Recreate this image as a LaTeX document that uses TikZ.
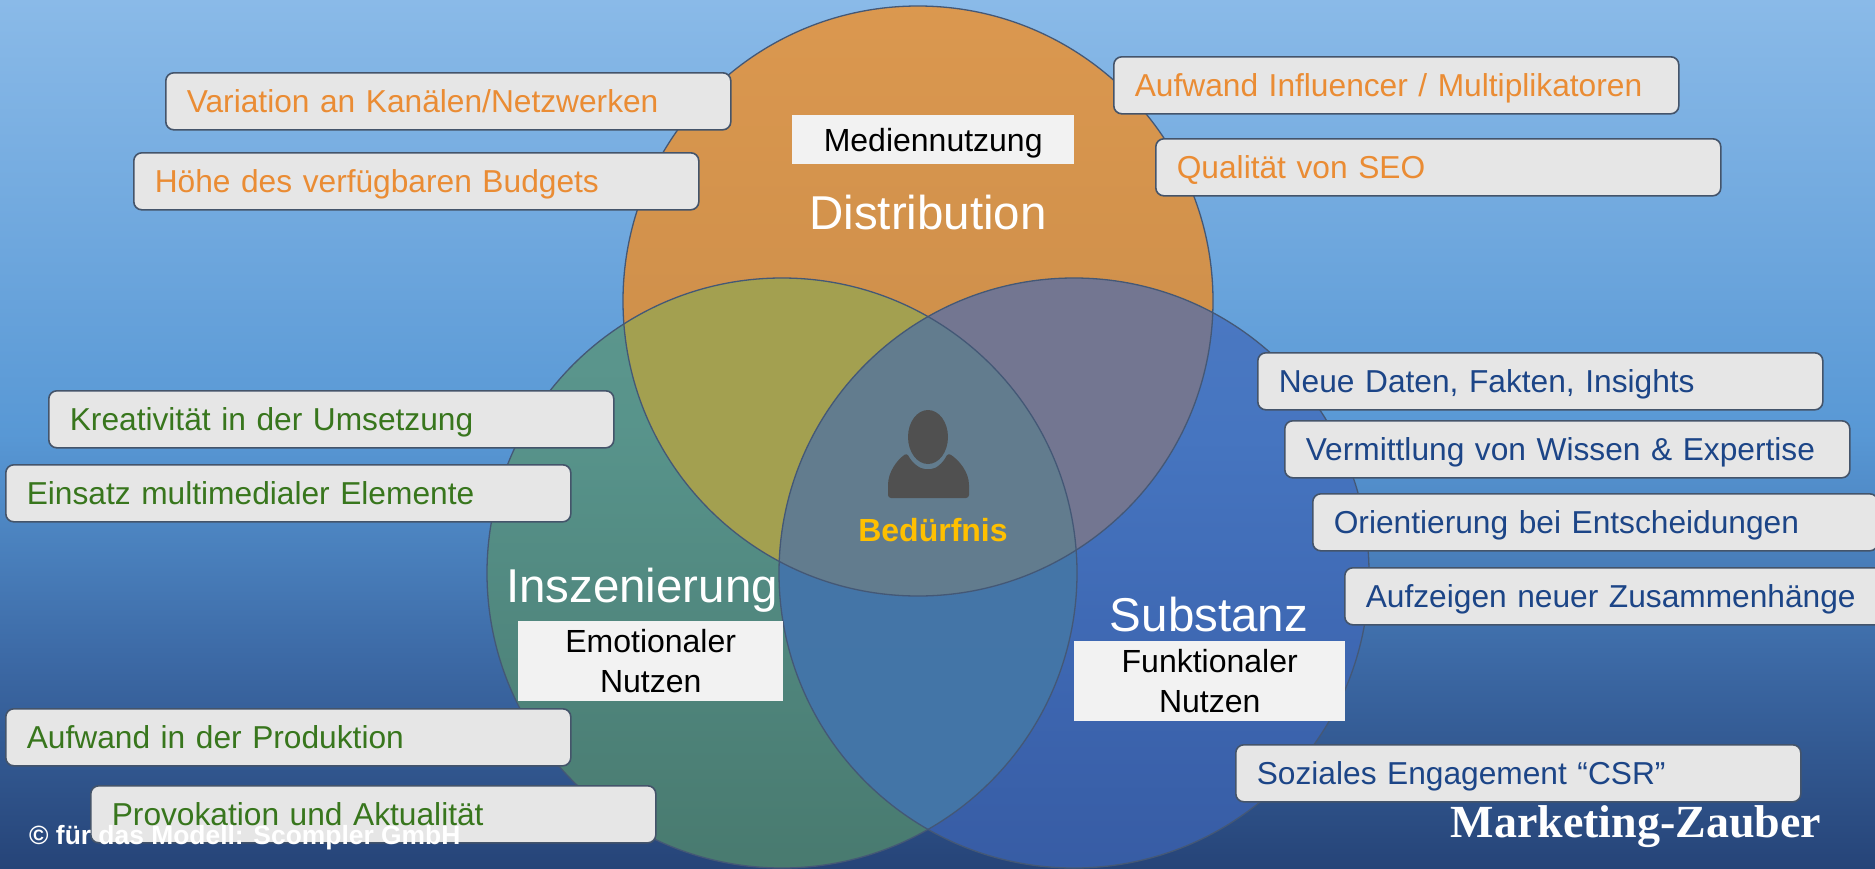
\documentclass[tikz,border=0pt]{standalone}
\usepackage{fontspec}
\setmainfont{Liberation Sans}
\newfontfamily\logoFont{Liberation Serif}
\usepackage{tikz}
\definecolor{distributionFill}{RGB}{254,138,15}
\definecolor{inszenierungFill}{RGB}{88,146,108}
\definecolor{substanzFill}{RGB}{63,103,184}
\definecolor{distributionInszenierung}{RGB}{163,160,80}
\definecolor{distributionSubstanz}{RGB}{115,118,145}
\definecolor{inszenierungSubstanz}{RGB}{68,118,168}
\definecolor{allCircles}{RGB}{98,124,142}
\definecolor{circleLine}{RGB}{68,88,118}
\definecolor{boxLine}{RGB}{68,84,106}
\definecolor{boxFill}{RGB}{230,230,230}
\definecolor{labelFill}{RGB}{242,242,242}
\definecolor{distributionText}{RGB}{234,140,52}
\definecolor{inszenierungText}{RGB}{56,118,29}
\definecolor{substanzText}{RGB}{28,69,135}
\definecolor{needText}{RGB}{255,192,0}
\definecolor{personFill}{RGB}{80,80,80}
\definecolor{skyTop}{RGB}{138,186,232}
\definecolor{skyMiddle}{RGB}{88,152,213}
\definecolor{skyLow}{RGB}{60,105,165}
\definecolor{skyBottom}{RGB}{38,68,120}
\pgfdeclareverticalshading{skyShading}{100bp}{
  color(0bp)=(skyBottom);
  color(25bp)=(skyBottom);
  color(37bp)=(skyLow);
  color(50bp)=(skyMiddle);
  color(75bp)=(skyTop);
  color(100bp)=(skyTop)}
\begin{document}
\begin{tikzpicture}[
  x=1pt,
  y=-1pt,
  infoBox/.style={
    draw=boxLine,
    line width=1.6pt,
    fill=boxFill,
    rounded corners=8pt,
    anchor=north west,
    xshift=-1pt,
    yshift=1pt,
    minimum width=565pt,
    minimum height=57pt,
    inner xsep=21pt,
    inner ysep=0pt,
    align=left,
    text width=523pt,
    text height=29pt,
    text depth=7pt,
    font=\fontsize{31.7}{38}\selectfont,
  },
  distributionBox/.style={infoBox,text=distributionText},
  inszenierungBox/.style={infoBox,text=inszenierungText},
  substanzBox/.style={infoBox,text=substanzText},
  whiteLabel/.style={
    fill=labelFill,
    text=black,
    anchor=north west,
    inner sep=0pt,
    align=center,
    font=\fontsize{32}{40}\selectfont,
  },
  circleTitle/.style={
    text=white,
    inner sep=0pt,
    font=\fontsize{47.5}{56}\selectfont,
  },
  vennCircle/.style={
    draw=circleLine,
    line width=1.3pt,
  },
]
\clip (0,0) rectangle (1875,868);
\shade[shading=skyShading] (0,0) rectangle (1875,868);
\coordinate (distributionCenter) at (918,301);
\coordinate (inszenierungCenter) at (782,573);
\coordinate (substanzCenter) at (1074,573);

\fill[distributionFill,opacity=0.7] (distributionCenter) circle (295);
\fill[inszenierungFill,opacity=0.7] (inszenierungCenter) circle (295);
\fill[substanzFill,opacity=0.7] (substanzCenter) circle (295);
\begin{scope}
\clip (distributionCenter) circle (295);
\fill[distributionInszenierung] (inszenierungCenter) circle (295);
\fill[distributionSubstanz] (substanzCenter) circle (295);
\end{scope}
\begin{scope}
\clip (inszenierungCenter) circle (295);
\fill[inszenierungSubstanz,opacity=0.9] (substanzCenter) circle (295);
\begin{scope}
\clip (substanzCenter) circle (295);
\fill[allCircles] (distributionCenter) circle (295);
\end{scope}
\end{scope}
\draw[vennCircle] (distributionCenter) circle (295);
\draw[vennCircle] (inszenierungCenter) circle (295);
\draw[vennCircle] (substanzCenter) circle (295);

\fill[personFill] (928,437) ellipse (20 and 27);
\fill[personFill,rounded corners=3pt] (888,498) -- (888,488)
  .. controls (888,472) and (897,460) .. (907,453)
  .. controls (912,463) and (920,469) .. (928,469)
  .. controls (936,469) and (943,463) .. (948,453)
  .. controls (959,460) and (969,472) .. (969,488) -- (969,498) -- cycle;
\node[text=needText,inner sep=0pt,font=\fontsize{32}{38}\selectfont\bfseries] (need) at (933,530) {Bedürfnis};

\node[whiteLabel,minimum width=282pt,minimum height=49pt,text height=28pt,text depth=5pt] (medien) at (792,115) {Mediennutzung};
\node[whiteLabel,minimum width=265pt,minimum height=80pt] (emotional) at (518,621) {Emotionaler\\Nutzen};
\node[whiteLabel,minimum width=271pt,minimum height=80pt] (funktional) at (1074,641) {Funktionaler\\Nutzen};
\node[circleTitle] (distribution) at (928,213) {Distribution};
\node[circleTitle] (inszenierung) at (642,590) {Inszenierung};
\node[circleTitle] (substanz) at (1209,615) {Substanz};

\node[distributionBox] (variation) at (166,73) {Variation an Kanälen/Netzwerken};
\node[distributionBox] (budget) at (134,153) {Höhe des verfügbaren Budgets};
\node[distributionBox] (influencer) at (1114,57) {Aufwand Influencer / Multiplikatoren};
\node[distributionBox] (seo) at (1156,139) {Qualität von SEO};

\node[substanzBox] (daten) at (1258,353) {Neue Daten, Fakten, Insights};
\node[substanzBox] (wissen) at (1285,421) {Vermittlung von Wissen \& Expertise};
\node[substanzBox] (orientierung) at (1313,494) {Orientierung bei Entscheidungen};
\node[substanzBox] (zusammenhang) at (1345,568) {Aufzeigen neuer Zusammenhänge};
\node[substanzBox] (sozial) at (1236,745) {Soziales Engagement “CSR”};

\node[inszenierungBox] (kreativ) at (49,391) {Kreativität in der Umsetzung};
\node[inszenierungBox] (einsatz) at (6,465) {Einsatz multimedialer Elemente};
\node[inszenierungBox] (produktion) at (6,709) {Aufwand in der Produktion};
\node[inszenierungBox] (provokation) at (91,786) {Provokation und Aktualität};

\node[text=white,anchor=west,inner sep=0pt,font=\fontsize{26.4}{32}\selectfont\bfseries] (copy) at (29,838) {© für das Modell: Scompler GmbH};
\node[text=white,inner sep=0pt,font=\logoFont\fontsize{46}{54}\selectfont\bfseries] (logo) at (1636,827) {Marketing-Zauber};
\end{tikzpicture}
\end{document}
